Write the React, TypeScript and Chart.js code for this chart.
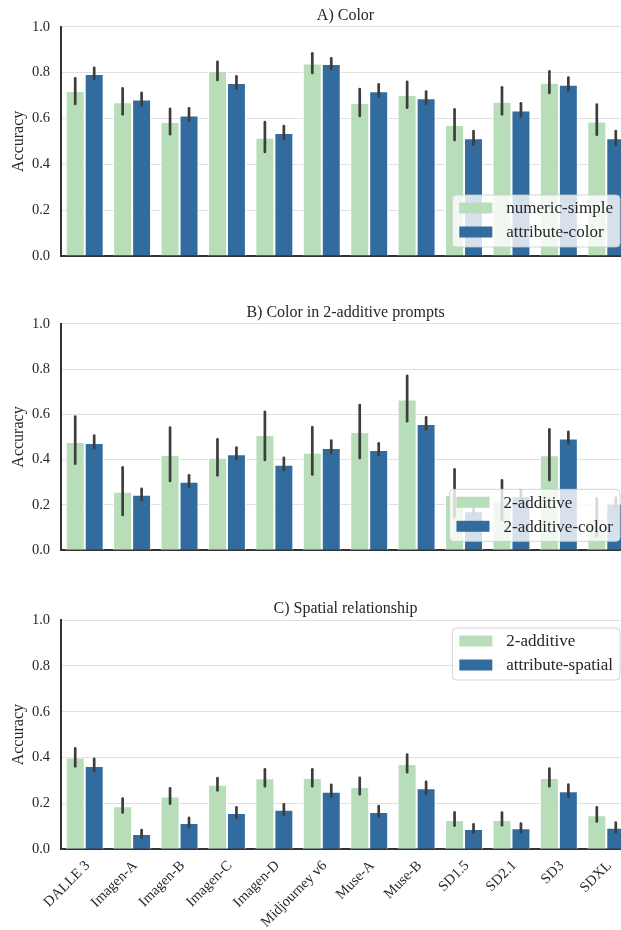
import React, { useEffect, useRef } from "react";
import { Chart, registerables } from "chart.js";

Chart.register(...registerables);

// ---------- data ----------
const MODELS = [
  "DALLE 3", "Imagen-A", "Imagen-B", "Imagen-C", "Imagen-D", "Midjourney v6",
  "Muse-A", "Muse-B", "SD1.5", "SD2.1", "SD3", "SDXL",
];

// Panel A) Color
const A_TITLE = "A) Color";
const A_SERIES_1 = "numeric-simple";
const A_SERIES_2 = "attribute-color";
const A_V1 = [0.72, 0.67, 0.584, 0.807, 0.516, 0.839, 0.667, 0.702, 0.571, 0.673, 0.756, 0.587];
const A_LO1 = [0.663, 0.618, 0.531, 0.768, 0.454, 0.798, 0.611, 0.647, 0.506, 0.618, 0.711, 0.529];
const A_HI1 = [0.775, 0.731, 0.642, 0.847, 0.584, 0.884, 0.728, 0.76, 0.64, 0.736, 0.805, 0.66];
const A_V2 = [0.794, 0.683, 0.613, 0.754, 0.536, 0.837, 0.718, 0.688, 0.513, 0.635, 0.747, 0.513];
const A_LO2 = [0.772, 0.657, 0.59, 0.73, 0.509, 0.816, 0.695, 0.664, 0.485, 0.608, 0.723, 0.485];
const A_HI2 = [0.821, 0.712, 0.644, 0.784, 0.567, 0.862, 0.749, 0.717, 0.545, 0.666, 0.778, 0.545];

// Panel B) Color in 2-additive prompts
const B_TITLE = "B) Color in 2-additive prompts";
const B_SERIES_1 = "2-additive";
const B_SERIES_2 = "2-additive-color";
const B_V1 = [0.478, 0.258, 0.421, 0.408, 0.509, 0.431, 0.522, 0.666, 0.243, 0.219, 0.42, 0.137];
const B_LO1 = [0.382, 0.156, 0.306, 0.331, 0.399, 0.334, 0.407, 0.57, 0.149, 0.134, 0.31, 0.064];
const B_HI1 = [0.59, 0.366, 0.541, 0.49, 0.611, 0.544, 0.641, 0.77, 0.357, 0.309, 0.534, 0.229];
const B_V2 = [0.474, 0.245, 0.302, 0.424, 0.378, 0.452, 0.443, 0.557, 0.172, 0.239, 0.493, 0.206];
const B_LO2 = [0.45, 0.222, 0.28, 0.402, 0.353, 0.429, 0.42, 0.534, 0.156, 0.214, 0.471, 0.184];
const B_HI2 = [0.506, 0.271, 0.331, 0.453, 0.408, 0.484, 0.472, 0.587, 0.185, 0.265, 0.523, 0.232];

// Panel C) Spatial relationship
const C_TITLE = "C) Spatial relationship";
const C_SERIES_1 = "2-additive";
const C_SERIES_2 = "attribute-spatial";
const C_V1 = [0.4, 0.188, 0.23, 0.281, 0.31, 0.311, 0.272, 0.372, 0.128, 0.128, 0.311, 0.148];
const C_LO1 = [0.362, 0.16, 0.199, 0.257, 0.275, 0.275, 0.24, 0.336, 0.103, 0.105, 0.275, 0.121];
const C_HI1 = [0.44, 0.221, 0.266, 0.31, 0.349, 0.349, 0.312, 0.413, 0.161, 0.16, 0.352, 0.183];
const C_V2 = [0.363, 0.067, 0.115, 0.158, 0.172, 0.251, 0.163, 0.266, 0.089, 0.092, 0.253, 0.094];
const C_LO2 = [0.34, 0.052, 0.096, 0.138, 0.15, 0.228, 0.142, 0.241, 0.073, 0.074, 0.23, 0.074];
const C_HI2 = [0.394, 0.084, 0.137, 0.183, 0.196, 0.281, 0.188, 0.294, 0.109, 0.112, 0.282, 0.116];

const Y_LABEL = "Accuracy";

// ---------- style ----------
const FONT = "'Liberation Serif', 'Times New Roman', serif";
const TEXT = "#262626";
const GREEN = "#b7ddb9";
const BLUE = "#326c9f";
const ERR = "#3d3d3d";

const errorBarPlugin = {
  id: "errorBars",
  afterDatasetsDraw(chart: any) {
    const ctx = chart.ctx;
    const y = chart.scales.y;
    ctx.save();
    ctx.strokeStyle = ERR;
    ctx.lineWidth = 2.7;
    ctx.lineCap = "round";
    chart.data.datasets.forEach((ds: any, i: number) => {
      const meta = chart.getDatasetMeta(i);
      meta.data.forEach((bar: any, j: number) => {
        ctx.beginPath();
        ctx.moveTo(bar.x, y.getPixelForValue(ds.errLo[j]));
        ctx.lineTo(bar.x, y.getPixelForValue(ds.errHi[j]));
        ctx.stroke();
      });
    });
    ctx.restore();
  },
};

const panelTitlePlugin = {
  id: "panelTitle",
  afterDraw(chart: any, _args: any, opts: any) {
    const { ctx, chartArea } = chart;
    ctx.save();
    ctx.font = `16px ${FONT}`;
    ctx.fillStyle = TEXT;
    ctx.textAlign = "center";
    ctx.textBaseline = "alphabetic";
    ctx.fillText(opts.text, (chartArea.left + chartArea.right) / 2, chartArea.top - 7);
    ctx.restore();
  },
};

const boxLegendPlugin = {
  id: "boxLegend",
  afterDatasetsDraw(chart: any, _args: any, opts: any) {
    const { ctx, chartArea } = chart;
    ctx.save();
    ctx.font = `17px ${FONT}`;
    const items = chart.data.datasets.map((d: any) => ({ label: d.label, color: d.backgroundColor }));
    const textW = Math.max(...items.map((it: any) => ctx.measureText(it.label).width));
    const patchW = 33, patchH = 11, padL = 7, gap = 14, padR = 7, rowH = 24;
    const w = padL + patchW + gap + textW + padR;
    const h = 52;
    const right = chartArea.right - 10;
    const left = right - w;
    const top = opts.position === "upper" ? chartArea.top + 8 : chartArea.bottom - 9 - h;
    ctx.beginPath();
    ctx.roundRect(left, top, w, h, 4);
    ctx.fillStyle = "rgba(255,255,255,0.8)";
    ctx.fill();
    ctx.strokeStyle = "rgba(204,204,204,0.8)";
    ctx.lineWidth = 1;
    ctx.stroke();
    items.forEach((it: any, k: number) => {
      const cy = top + 13 + k * rowH;
      ctx.fillStyle = it.color;
      ctx.fillRect(left + padL, cy - patchH / 2, patchW, patchH);
      ctx.fillStyle = TEXT;
      ctx.textAlign = "left";
      ctx.textBaseline = "middle";
      ctx.fillText(it.label, left + padL + patchW + gap, cy + 1);
    });
    ctx.restore();
  },
};

type PanelProps = {
  top: number;
  height: number;
  areaTop: number;
  areaBottom: number;
  title: string;
  s1: string;
  s2: string;
  v1: number[]; lo1: number[]; hi1: number[];
  v2: number[]; lo2: number[]; hi2: number[];
  legendPos: "upper" | "lower";
  showX: boolean;
};

function Panel(p: PanelProps) {
  const ref = useRef<HTMLCanvasElement | null>(null);
  useEffect(() => {
    if (!ref.current) return;
    const xH = p.showX ? p.height - p.areaBottom : 0;
    const chart = new Chart(ref.current, {
      type: "bar",
      data: {
        labels: MODELS,
        datasets: [
          {
            label: p.s1, data: p.v1, errLo: p.lo1, errHi: p.hi1,
            backgroundColor: GREEN, borderColor: "#ffffff", borderWidth: 1,
            categoryPercentage: 0.8, barPercentage: 1.0,
          } as any,
          {
            label: p.s2, data: p.v2, errLo: p.lo2, errHi: p.hi2,
            backgroundColor: BLUE, borderColor: "#ffffff", borderWidth: 1,
            categoryPercentage: 0.8, barPercentage: 1.0,
          } as any,
        ],
      },
      options: {
        responsive: false,
        animation: false,
        layout: {
          padding: { top: p.areaTop, bottom: p.showX ? 0 : p.height - p.areaBottom, left: 0, right: 10 },
        },
        plugins: {
          legend: { display: false },
          tooltip: { enabled: false },
          title: { display: false },
          panelTitle: { text: p.title },
          boxLegend: { position: p.legendPos },
        } as any,
        scales: {
          x: {
            grid: { display: false, drawTicks: false },
            border: { display: true, color: "#333333", width: 2 },
            ticks: {
              display: p.showX,
              autoSkip: false,
              minRotation: 45,
              maxRotation: 45,
              padding: 8,
              labelOffset: 3,
              color: TEXT,
              font: { family: FONT, size: 14.5 },
            },
            afterFit: (s: any) => { s.height = xH; },
          },
          y: {
            min: 0,
            max: 1,
            ticks: {
              stepSize: 0.2,
              padding: 11,
              color: TEXT,
              font: { family: FONT, size: 14.5 },
              callback: (v: any) => Number(v).toFixed(1),
            },
            grid: { color: "#e0e0e0", lineWidth: 1, drawTicks: false },
            border: { display: true, color: "#333333", width: 2 },
            title: {
              display: true,
              text: Y_LABEL,
              color: TEXT,
              font: { family: FONT, size: 16 },
              padding: { top: 9, bottom: 0 },
            },
            afterFit: (s: any) => { s.width = 61; },
          },
        },
      } as any,
      plugins: [errorBarPlugin, boxLegendPlugin, panelTitlePlugin],
    });
    return () => chart.destroy();
  }, []);
  return (
    <canvas
      ref={ref}
      width={640}
      height={p.height}
      style={{ position: "absolute", left: 0, top: p.top, width: 640, height: p.height, display: "block" }}
    />
  );
}

export default function App() {
  return (
    <div style={{ position: "fixed", left: 0, top: 0, width: 621, height: 930, overflow: "hidden", background: "#ffffff" }}>
      <Panel top={0} height={280} areaTop={26.7} areaBottom={256}
        title={A_TITLE} s1={A_SERIES_1} s2={A_SERIES_2}
        v1={A_V1} lo1={A_LO1} hi1={A_HI1} v2={A_V2} lo2={A_LO2} hi2={A_HI2}
        legendPos="lower" showX={false} />
      <Panel top={290} height={280} areaTop={33.7} areaBottom={262.3}
        title={B_TITLE} s1={B_SERIES_1} s2={B_SERIES_2}
        v1={B_V1} lo1={B_LO1} hi1={B_HI1} v2={B_V2} lo2={B_LO2} hi2={B_HI2}
        legendPos="lower" showX={false} />
      <Panel top={590} height={340} areaTop={30} areaBottom={259.3}
        title={C_TITLE} s1={C_SERIES_1} s2={C_SERIES_2}
        v1={C_V1} lo1={C_LO1} hi1={C_HI1} v2={C_V2} lo2={C_LO2} hi2={C_HI2}
        legendPos="upper" showX={true} />
    </div>
  );
}
